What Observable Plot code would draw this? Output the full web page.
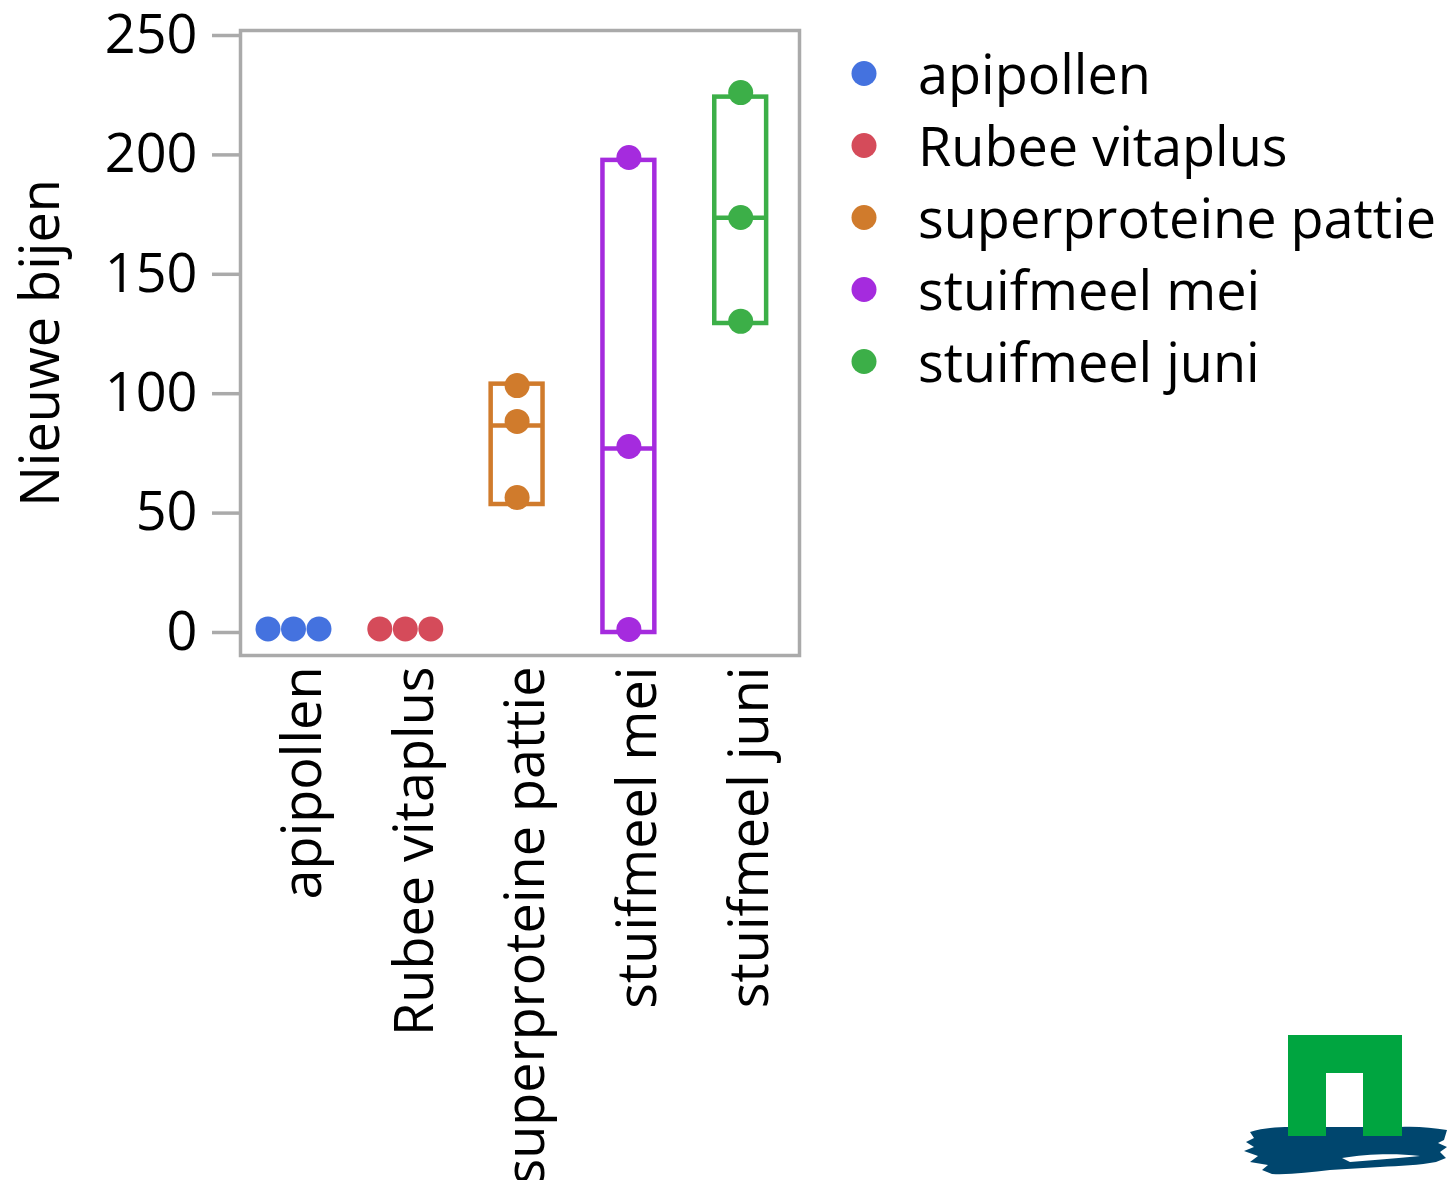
<!DOCTYPE html>
<html>
<head>
<meta charset="utf-8">
<script src="https://cdn.jsdelivr.net/npm/d3@7"></script>
<script src="https://cdn.jsdelivr.net/npm/@observablehq/plot@0.6"></script>
<style>
  html, body { margin: 0; padding: 0; background: #fff; }
  #root { position: relative; width: 1447px; height: 1180px; overflow: hidden; font-family: "Open Sans", sans-serif; }
  #chart { position: absolute; left: 0; top: 0; }
  #legend { position: absolute; left: 0; top: 0; }
  #logo { position: absolute; left: 0; top: 0; }
</style>
</head>
<body>
<div id="root">
  <div id="chart"></div>
  <svg id="legend" width="1447" height="420"></svg>
  <svg id="logo" width="1447" height="1180"></svg>
</div>
<script>
// ---- data ----
const categories = ["apipollen", "Rubee vitaplus", "superproteine pattie", "stuifmeel mei", "stuifmeel juni"];
const colors = ["#4472df", "#d54b5a", "#d07b2c", "#a52bde", "#3caf48"];

const vApipollen = [1.5, 1.5, 1.5];
const vRubee = [1.5, 1.5, 1.5];
const vSuperproteine = [103.4, 88.4, 56.5];
const vMei = [198.9, 77.9, 1.3];
const vJuni = [226.1, 173.8, 130.3];

const boxCategories = ["superproteine pattie", "stuifmeel mei", "stuifmeel juni"];
const boxLow = [53.6, 0, 129.4];
const boxMedian = [86.7, 77.0, 173.7];
const boxHigh = [104.0, 197.7, 224.2];

const yTicks = [0, 50, 100, 150, 200, 250];
const yLabel = "Nieuwe bijen";

// ---- build tables ----
const seriesValues = [vApipollen, vRubee, vSuperproteine, vMei, vJuni];
const swarmStep = 0.228; // dot diameter in band units (beeswarm spread)
const points = [];
seriesValues.forEach((vals, i) => {
  const groups = d3.group(vals.map((v, j) => ({v, j})), d => d.v);
  for (const [v, arr] of groups) {
    arr.forEach((d, k) => {
      points.push({cat: categories[i], idx: i, value: v, xpos: i + (k - (arr.length - 1) / 2) * swarmStep});
    });
  }
});
const boxes = boxCategories.map((c, i) => {
  const idx = categories.indexOf(c);
  return {cat: c, idx, lo: boxLow[i], mid: boxMedian[i], hi: boxHigh[i]};
});
const halfWidth = 0.232;

const FONT = 54;
const LINE = 3.5;
const BOXLINE = 4.5;
const chart = Plot.plot({
  width: 820,
  height: 1180,
  marginLeft: 240,
  marginRight: 21,
  marginTop: 30,
  marginBottom: 525,
  style: {fontFamily: "Open Sans, sans-serif", fontSize: FONT + "px", color: "#000", background: "transparent", overflow: "visible"},
  x: {type: "linear", domain: [-0.474, 4.526]},
  y: {domain: [0, 250], insetTop: 5, insetBottom: 23},
  color: {domain: categories, range: colors},
  marks: [
    Plot.frame({stroke: "#aaaaaa", strokeWidth: LINE}),
    Plot.axisY({ticks: yTicks, tickSize: 28, stroke: "#aaaaaa", strokeWidth: LINE, text: null, label: null}),
    Plot.axisY({ticks: yTicks, tickSize: 0, tickPadding: 43, fill: "#000", fontSize: FONT, label: yLabel, labelAnchor: "center", labelOffset: 220, labelArrow: "none"}),
    Plot.axisX({ticks: [0, 1, 2, 3, 4], tickFormat: i => categories[i], tickSize: 0, tickPadding: 11, tickRotate: -90, dx: 10, fontSize: FONT, fill: "#000", label: null}),
    Plot.rect(boxes, {x1: d => d.idx - halfWidth, x2: d => d.idx + halfWidth, y1: "lo", y2: "hi", fill: "none", stroke: d => d.cat, strokeWidth: BOXLINE}),
    Plot.ruleY(boxes, {y: "mid", x1: d => d.idx - halfWidth, x2: d => d.idx + halfWidth, stroke: d => d.cat, strokeWidth: BOXLINE}),
    Plot.dot(points, {x: "xpos", y: "value", r: 12.5, fill: "cat", stroke: null})
  ]
});
document.getElementById("chart").appendChild(chart);

// ---- legend ----
const legend = d3.select("#legend");
const lg = legend.selectAll("g").data(categories).join("g")
  .attr("transform", (d, i) => `translate(0, ${73.5 + i * 72})`);
lg.append("circle").attr("cx", 864).attr("cy", 0).attr("r", 12.5).attr("fill", (d, i) => colors[i]);
lg.append("text").attr("x", 918).attr("y", 20).attr("font-family", "Open Sans, sans-serif")
  .attr("font-size", FONT).attr("fill", "#000").text(d => d);

// ---- logo (decoration) ----
const logo = d3.select("#logo");
logo.append("path")
  .attr("fill", "#00466e")
  .attr("d", "M1250,1132 C1262,1128 1275,1127 1290,1127 L1400,1127 C1418,1126 1432,1128 1447,1130 L1444,1140 L1438,1143 L1447,1147 L1440,1152 L1446,1158 L1436,1162 C1420,1165 1400,1166 1380,1167 L1330,1170 C1310,1172 1290,1175 1272,1174 L1262,1170 L1268,1165 L1250,1162 L1258,1156 L1244,1151 L1254,1147 L1246,1142 L1254,1138 Z");
logo.append("path")
  .attr("fill", "#ffffff")
  .attr("d", "M1342,1158 C1365,1154 1395,1153 1420,1156 C1400,1158 1375,1160 1350,1162 Z");
logo.append("path")
  .attr("fill", "#00a540")
  .attr("d", "M1288,1035 L1402,1035 L1402,1136 L1363,1136 L1363,1073 L1326,1073 L1326,1136 L1288,1136 Z");
</script>
</body>
</html>
